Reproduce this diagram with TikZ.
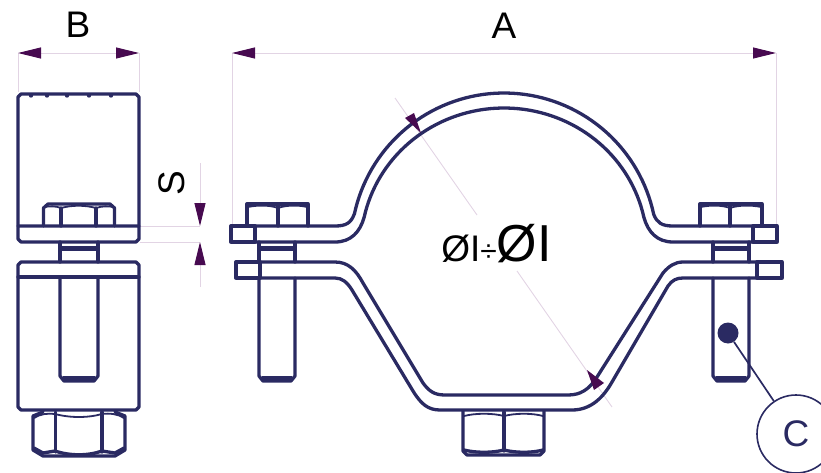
\documentclass[tikz,border=0pt]{standalone}
\usepackage{fontspec}
\setmainfont{Liberation Sans}
\usetikzlibrary{arrows.meta}
\definecolor{navy}{HTML}{2A2A62}
\definecolor{dimc}{HTML}{E2D4E4}
\definecolor{tipc}{HTML}{470A50}
\tikzset{
  part/.style={draw=navy,line width=3.3pt,line join=round,line cap=round},
  fine/.style={draw=navy,line width=1.8pt},
  thickbar/.style={draw=navy,line width=4.5pt},
  dimline/.style={draw=dimc,line width=0.9pt},
  dimarrow/.style={draw=dimc,line width=0.9pt,arrows={Triangle[length=23pt,width=11pt,color=tipc]-Triangle[length=23pt,width=11pt,color=tipc]}},
  singletip/.style={draw=dimc,line width=0.9pt,arrows={-Triangle[length=23pt,width=11pt,color=tipc]}},
  tipfill/.style={fill=tipc},
  biglabel/.style={font=\fontsize{37}{37}\selectfont,inner sep=0pt,text=black},
}
\begin{document}
\begin{tikzpicture}[x=1pt,y=-1pt]
\useasboundingbox (0,0) rectangle (821,473);
% ---- dimension coordinates
\coordinate (bl) at (18,53); \coordinate (br) at (139,53);
\coordinate (bl2) at (18,92); \coordinate (br2) at (139,92);
\coordinate (al) at (232,53); \coordinate (ar) at (776,53);
\coordinate (al2) at (232,225); \coordinate (ar2) at (776,225);
\coordinate (s1) at (200,163); \coordinate (s2) at (200,226);
\coordinate (s3) at (200,287); \coordinate (s4) at (200,242);
\coordinate (e1) at (140,226); \coordinate (e2) at (140,242);
\coordinate (d1) at (395,98); \coordinate (d2) at (477,215);
\coordinate (d3) at (517,271); \coordinate (d4) at (612,407);
% ---- thin lines
\draw[dimline] (bl) -- (bl2) (br) -- (br2) (al) -- (al2) (ar) -- (ar2);
\draw[dimline] (e1) -- (s2) (e2) -- (s4);
\draw[dimline] (d1) -- (d2) (d3) -- (d4);
\draw[dimarrow] (bl) -- (br);
\draw[dimarrow] (al) -- (ar);
\draw[singletip] (s1) -- (s2);
\draw[singletip] (s3) -- (s4);
% ---- side view
\draw[part] (18,226) -- (18,97) -- (21,94) -- (136,94) -- (139,97) -- (139,226);
\foreach \x in {31,47,67,89,111} \fill[navy] (\x,95.5) circle (2.2pt);
\draw[part] (18,226) -- (139,226) -- (139,239) -- (136,242) -- (21,242) -- (18,239) -- cycle;
\draw[part] (43.5,226) -- (43.5,208) -- (48,204) -- (110,204) -- (114.5,208) -- (114.5,226);
\draw[part] (61,226) -- (61,208) (96,226) -- (96,208);
\draw[fine] (44,207) .. controls (50,206) and (56,206) .. (61,208) .. controls (72,205) and (85,205) .. (96,208) .. controls (102,206) and (108,206) .. (114,207);
\draw[part] (60,242) -- (60,262) (98,242) -- (98,262);
\draw[thickbar] (61,248.5) -- (97,248.5);
\draw[part] (21,262) -- (136,262) -- (139,265) -- (139,407) -- (136,410) -- (21,410) -- (18,407) -- (18,265) -- cycle;
\draw[part] (18,277) -- (139,277);
\draw[part] (60,277) -- (60,376) -- (64,381) -- (94,381) -- (98,376) -- (98,277);
\draw[thickbar] (63,378.5) -- (95,378.5);
% side nut
\draw[part] (43,412) -- (33,416) -- (33,450) -- (43,456) -- (115,456) -- (125,450) -- (125,416) -- (115,412);
\draw[part] (55.5,412) -- (55.5,452) (102,412) -- (102,452);
\draw[fine] (34,418) .. controls (40,414) and (48,413) .. (55,414) .. controls (70,418) and (88,418) .. (102,414) .. controls (110,413) and (118,414) .. (124,418);
\draw[part] (34,448) -- (43,453) -- (55,451) .. controls (70,456) and (88,456) .. (102,451) -- (115,453) -- (124,448);
% ---- upper strap
\draw[part] (255,226) -- (231,226) -- (231,242) -- (255,242) -- cycle;
\draw[part] (753,226) -- (777,226) -- (777,242) -- (753,242) -- cycle;
\draw[part] (255,226) -- (335,226) .. controls (346,226) and (351,223) .. (354.3,214)
  -- plot[domain=168:12,samples=70] ({504+153*cos(\x)},{246-153*sin(\x)})
  .. controls (657,223) and (662,226) .. (673,226) -- (753,226);
\draw[part] (255,242) -- (335,242) .. controls (351,242) and (360,232) .. (364.1,217.3)
  -- plot[domain=168:12,samples=70] ({504+143*cos(\x)},{246-138*sin(\x)})
  .. controls (648,232) and (657,242) .. (673,242) -- (753,242);
% ---- bolts between the straps
\draw[part] (259,242) -- (259,262) (295,242) -- (295,262);
\draw[part] (713,242) -- (713,262) (749,242) -- (749,262);
\draw[thickbar] (260,248.5) -- (294,248.5);
\draw[thickbar] (714,248.5) -- (748,248.5);
% bolt heads
\draw[part] (247,226) -- (247,204) -- (308,204) -- (308,226);
\draw[part] (278,226) -- (278,205);
\draw[fine] (248,207) .. controls (257,205) and (270,205) .. (278,208) .. controls (286,205) and (299,205) .. (307,207);
\draw[part] (700,226) -- (700,204) -- (762,204) -- (762,226);
\draw[part] (730,226) -- (730,205);
\draw[fine] (701,207) .. controls (710,205) and (722,205) .. (730,208) .. controls (738,205) and (752,205) .. (761,207);
% ---- lower strap
\draw[part] (260,262) -- (236,262) -- (236,278) -- (260,278) -- cycle;
\draw[part] (757,262) -- (782,262) -- (782,278) -- (757,278) -- cycle;
\draw[part] (260,262) -- (335,262) .. controls (348,262) and (356,270) .. (363,283)
  -- (423,383) .. controls (429,391) and (434,395) .. (445,395)
  -- (568,395) .. controls (580,395) and (589,390) .. (597,377)
  -- (663,273) .. controls (669,266) and (675,262) .. (683,262) -- (757,262);
\draw[part] (260,278) -- (335,278) .. controls (342,278) and (347,282) .. (352,290)
  -- (413,391) .. controls (421,404) and (428,410) .. (440,410)
  -- (572,410) .. controls (592,410) and (604,396) .. (612,382)
  -- (668,286) .. controls (672,280) and (677,278) .. (683,278) -- (757,278);
% ---- shanks
\draw[part] (259,278) -- (259,376) -- (263,381) -- (291,381) -- (295,376) -- (295,278);
\draw[thickbar] (262,378.5) -- (292,378.5);
\draw[part] (713,278) -- (713,376) -- (717,381) -- (745,381) -- (749,376) -- (749,278);
\draw[thickbar] (716,378.5) -- (746,378.5);
% ---- central nut
\draw[part] (463,411) -- (463,451) -- (467,455) -- (540,455) -- (544,451) -- (544,411);
\draw[part] (504,412) -- (504,451);
\draw[fine] (464,416) .. controls (476,413) and (492,413) .. (504,416) .. controls (516,413) and (532,413) .. (543,416);
\draw[part] (464,450) .. controls (476,453) and (492,453) .. (504,450) .. controls (516,453) and (532,453) .. (543,450);
% ---- diameter arrowheads
\fill[tipfill] (405,118) -- (414,113) -- (421,133) -- cycle;
\fill[tipfill] (587,370) -- (604,383) -- (594,390) -- cycle;
% ---- labels
\node[biglabel,anchor=base] (labelB) at (78,38) {B};
\node[biglabel,anchor=base] (labelA) at (504,39) {A};
\node[biglabel,anchor=center,rotate=90] (labelS) at (172,183) {S};
\node[anchor=base,inner sep=0pt,text=black] (labelD) at (496.5,261) {\fontsize{37}{37}\selectfont ØI\fontsize{30}{30}\selectfont ÷\fontsize{52}{52}\selectfont ØI};
% ---- hole callout
\node[circle,fill=navy,minimum size=21pt,inner sep=0pt] (hole) at (728,333) {};
\node[circle,draw=navy,line width=1.6pt,fill=white,minimum size=78pt,inner sep=0pt,font=\fontsize{37}{37}\selectfont,text=navy] (callout) at (796,434) {C};
\draw[draw=navy,line width=1.7pt] (hole) -- (callout);
\end{tikzpicture}
\end{document}
